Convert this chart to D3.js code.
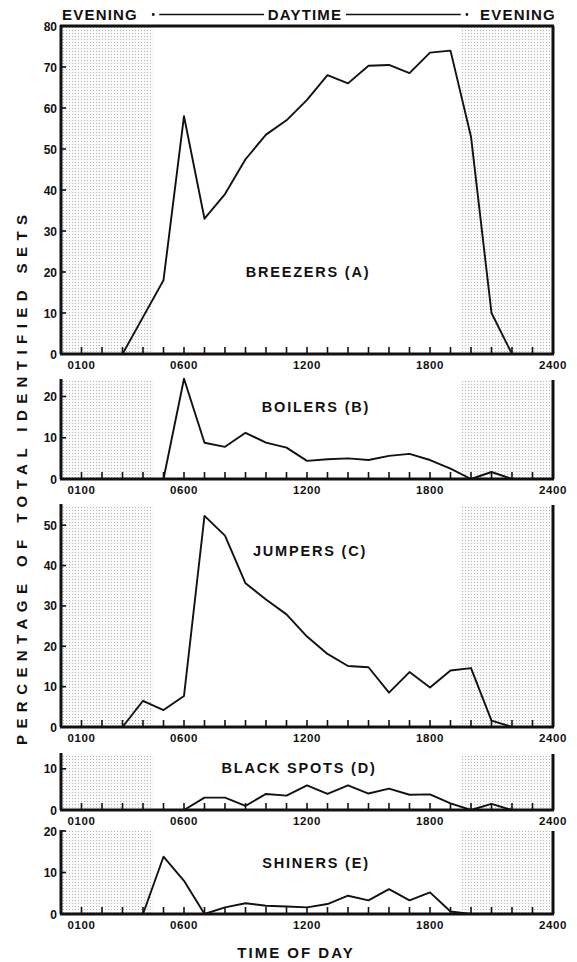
<!DOCTYPE html>
<html>
<head>
<meta charset="utf-8">
<script src="https://cdn.jsdelivr.net/npm/d3@7"></script>
<style>
    body{ margin:0; background:#fff; }
    svg{ display:block; }
    text{ font-family:'Liberation Sans', Arial, sans-serif; font-weight:bold; fill:#111; }
</style>
</head>
<body>
<svg id="chart" width="577" height="962"></svg>
<script>
// values, one point per hour
var breezersHours = d3.range( 3, 23 ),
    breezersValues = [ 0, 9, 18, 58, 33, 39, 47.5, 53.5, 57, 62, 68, 66, 70.3, 70.5, 68.5, 73.5, 74, 53, 10, 0 ];

var boilersHours = d3.range( 5, 23 ),
    boilersValues = [ 0, 24.3, 8.8, 7.8, 11.2, 8.8, 7.6, 4.4, 4.8, 5, 4.6, 5.6, 6.1, 4.6, 2.5, 0, 1.7, 0 ];

var jumpersHours = d3.range( 3, 23 ),
    jumpersValues = [ 0, 6.5, 4.2, 7.7, 52.3, 47.4, 35.6, 31.6, 27.9, 22.4, 18.1, 15.1, 14.8, 8.5, 13.6, 9.8, 14, 14.6, 1.6, 0 ];

var blackSpotsHours = d3.range( 6, 23 ),
    blackSpotsValues = [ 0, 3, 3, 1, 3.9, 3.5, 6, 3.9, 6, 4, 5.2, 3.7, 3.8, 1.6, 0, 1.5, 0 ];

var shinersHours = d3.range( 4, 21 ),
    shinersValues = [ 0, 13.8, 8, 0, 1.6, 2.6, 2, 1.8, 1.6, 2.4, 4.4, 3.3, 6, 3.3, 5.2, 0.6, 0 ];

var hourTicks = d3.range( 1, 24 ),
    labelHours = [ 1, 6, 12, 18, 24 ],
    labelTexts = [ '0100', '0600', '1200', '1800', '2400' ],
    eveningBands = [ [ 0, 4.5 ], [ 19.5, 24 ] ];

var svg = d3.select( '#chart' ),
    x = d3.scaleLinear().domain( [ 0, 24 ] ).range( [ 61, 553 ] );

var panels = [
    { name: 'BREEZERS (A)', hours: breezersHours, values: breezersValues, max: 80, top: 26, bottom: 354, yTicks: d3.range( 0, 81, 10 ), tx: 308, ty: 277, border: true },
    { name: 'BOILERS (B)', hours: boilersHours, values: boilersValues, max: 24, top: 380, bottom: 479, yTicks: [ 0, 10, 20 ], tx: 316, ty: 412 },
    { name: 'JUMPERS (C)', hours: jumpersHours, values: jumpersValues, max: 55, top: 505, bottom: 727, yTicks: d3.range( 0, 51, 10 ), tx: 310, ty: 556 },
    { name: 'BLACK SPOTS (D)', hours: blackSpotsHours, values: blackSpotsValues, max: 13.6, top: 754, bottom: 810, yTicks: [ 0, 10 ], tx: 299, ty: 773 },
    { name: 'SHINERS (E)', hours: shinersHours, values: shinersValues, max: 20, top: 831, bottom: 914, yTicks: [ 0, 10, 20 ], tx: 316, ty: 868 }
];

// stipple used for the evening bands
var pat = svg.append( 'defs' ).append( 'pattern' )
    .attr( 'id', 'dots' )
    .attr( 'patternUnits', 'userSpaceOnUse' )
    .attr( 'width', 3 )
    .attr( 'height', 3 );
pat.append( 'rect' ).attr( 'width', 3 ).attr( 'height', 3 ).attr( 'fill', '#fbfbfb' );
pat.append( 'rect' ).attr( 'width', 1 ).attr( 'height', 1 ).attr( 'fill', '#b4b4b4' );

panels.forEach( function( p ){
    var y = d3.scaleLinear().domain( [ 0, p.max ] ).range( [ p.bottom, p.top ] ),
        g = svg.append( 'g' ).attr( 'class', 'panel' ),
        pts = p.hours.map( function( h, i ){ return [ h, p.values[i] ]; } );

    g.selectAll( 'rect.band' )
        .data( eveningBands )
        .enter().append( 'rect' )
        .attr( 'class', 'band' )
        .attr( 'x', function( d ){ return x( d[0] ); } )
        .attr( 'width', function( d ){ return x( d[1] ) - x( d[0] ); } )
        .attr( 'y', y( p.max ) )
        .attr( 'height', y( 0 ) - y( p.max ) )
        .attr( 'fill', 'url(#dots)' );

    // hour ticks point up into the plot
    g.selectAll( 'line.xt' )
        .data( hourTicks )
        .enter().append( 'line' )
        .attr( 'x1', function( d ){ return x( d ); } )
        .attr( 'x2', function( d ){ return x( d ); } )
        .attr( 'y1', y( 0 ) )
        .attr( 'y2', y( 0 ) - 7 )
        .attr( 'stroke', '#111' )
        .attr( 'stroke-width', 1.6 );

    g.selectAll( 'line.yt' )
        .data( p.yTicks )
        .enter().append( 'line' )
        .attr( 'x1', x( 0 ) )
        .attr( 'x2', x( 0 ) + 5 )
        .attr( 'y1', function( d ){ return y( d ); } )
        .attr( 'y2', function( d ){ return y( d ); } )
        .attr( 'stroke', '#111' )
        .attr( 'stroke-width', 1.6 );

    g.selectAll( 'text.yl' )
        .data( p.yTicks )
        .enter().append( 'text' )
        .attr( 'x', x( 0 ) - 4 )
        .attr( 'y', function( d ){ return y( d ) + 4.5; } )
        .attr( 'text-anchor', 'end' )
        .style( 'font-size', '12px' )
        .text( function( d ){ return d; } );

    g.selectAll( 'text.xl' )
        .data( labelHours )
        .enter().append( 'text' )
        .attr( 'x', function( d ){ return x( d ); } )
        .attr( 'y', y( 0 ) + 15 )
        .attr( 'text-anchor', 'middle' )
        .style( 'font-size', '11.5px' )
        .style( 'letter-spacing', '0.6px' )
        .text( function( d, i ){ return labelTexts[i]; } );

    g.append( 'path' )
        .datum( pts )
        .attr( 'fill', 'none' )
        .attr( 'stroke', '#111' )
        .attr( 'stroke-width', 1.9 )
        .attr( 'stroke-linejoin', 'round' )
        .attr( 'd', d3.line().x( function( d ){ return x( d[0] ); } ).y( function( d ){ return y( d[1] ); } ) );

    // frame: left axis, right edge, baseline (and top edge for the first one)
    var frame = [
        [ x( 0 ), y( p.max ) - 1, x( 0 ), y( 0 ) ],
        [ x( 24 ), y( p.max ), x( 24 ), y( 0 ) ],
        [ x( 0 ) - 1, y( 0 ), x( 24 ) + 1, y( 0 ) ]
    ];
    if ( p.border ){
        frame.push( [ x( 0 ) - 1, y( p.max ), x( 24 ) + 1, y( p.max ) ] );
    }
    g.selectAll( 'line.frame' )
        .data( frame )
        .enter().append( 'line' )
        .attr( 'x1', function( d ){ return d[0]; } )
        .attr( 'y1', function( d ){ return d[1]; } )
        .attr( 'x2', function( d ){ return d[2]; } )
        .attr( 'y2', function( d ){ return d[3]; } )
        .attr( 'stroke', '#111' )
        .attr( 'stroke-width', 3 );

    g.append( 'text' )
        .attr( 'x', p.tx )
        .attr( 'y', p.ty )
        .attr( 'text-anchor', 'middle' )
        .style( 'font-size', '14.5px' )
        .style( 'letter-spacing', '1.8px' )
        .text( p.name );
});

// header: evening / daytime / evening
var head = svg.append( 'g' );
[ [ 'EVENING', 100 ], [ 'DAYTIME', 305 ], [ 'EVENING', 518 ] ].forEach( function( d ){
    head.append( 'text' )
        .attr( 'x', d[1] )
        .attr( 'y', 20 )
        .attr( 'text-anchor', 'middle' )
        .style( 'font-size', '15px' )
        .style( 'letter-spacing', '1.2px' )
        .text( d[0] );
});
[ [ x( 4.5 ) + 6, 264 ], [ 346, x( 19.5 ) ] ].forEach( function( d ){
    head.append( 'line' )
        .attr( 'x1', d[0] ).attr( 'x2', d[1] )
        .attr( 'y1', 14.5 ).attr( 'y2', 14.5 )
        .attr( 'stroke', '#111' )
        .attr( 'stroke-width', 1.5 );
});
[ 4.5, 19.5 + 0.3 ].forEach( function( h ){
    head.append( 'circle' )
        .attr( 'cx', x( h ) )
        .attr( 'cy', 14.5 )
        .attr( 'r', 1.4 )
        .attr( 'fill', '#111' );
});

svg.append( 'text' )
    .attr( 'transform', 'translate(27,480) rotate(-90)' )
    .attr( 'text-anchor', 'middle' )
    .attr( 'textLength', 530 )
    .attr( 'lengthAdjust', 'spacing' )
    .style( 'font-size', '15px' )
    .text( 'PERCENTAGE OF TOTAL IDENTIFIED SETS' );

svg.append( 'text' )
    .attr( 'x', 296 )
    .attr( 'y', 958 )
    .attr( 'text-anchor', 'middle' )
    .style( 'font-size', '15px' )
    .style( 'letter-spacing', '2px' )
    .text( 'TIME OF DAY' );
</script>
</body>
</html>
